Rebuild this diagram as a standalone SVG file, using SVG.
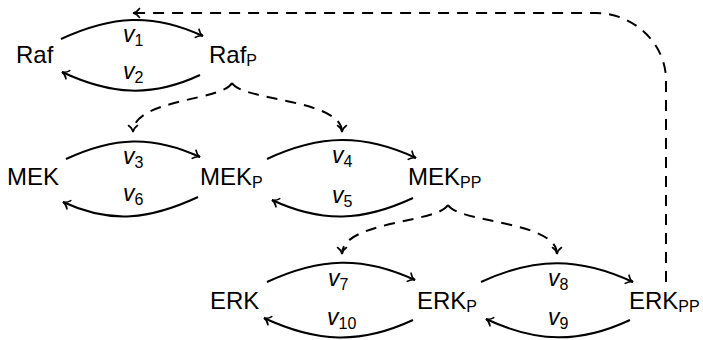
<svg xmlns="http://www.w3.org/2000/svg" width="703" height="340" viewBox="0 0 703 340">
<style>
.t{font-family:"Liberation Sans",Arial,sans-serif;font-size:24px;fill:#000}
.s{font-size:16px}
.v{font-family:"Liberation Sans",Arial,sans-serif;font-size:23px;font-style:italic;fill:#000}
.vs{font-size:16px;font-style:normal}
.e{fill:none;stroke:#000;stroke-width:2;marker-end:url(#ah)}
.d{fill:none;stroke:#000;stroke-width:2;stroke-dasharray:11 8;marker-end:url(#ah)}
</style>
<defs>
<marker id="ah" viewBox="-8 -6 10 12" refX="0" refY="0" markerWidth="10" markerHeight="12" markerUnits="userSpaceOnUse" orient="auto">
<path d="M-6.5,-4.5 C-4.5,-1.5 -1.5,-0.3 0,0 C-1.5,0.3 -4.5,1.5 -6.5,4.5" fill="none" stroke="#000" stroke-width="1.6" stroke-linecap="round"/>
</marker>
</defs>
<g id="connectors">
<path class="e" d="M61,39 C111.4,15.6 152.6,12.6 203,36"/>
<path class="e" d="M200,75 C151,97.8 111,94.8 62,72"/>
<path class="e" d="M66,159 C113.6,136.9 152.4,134.9 200,157"/>
<path class="e" d="M198,197 C150.1,219.3 110.9,224.3 63,202"/>
<path class="e" d="M267,159 C319.9,134.4 363.1,133.4 416,158"/>
<path class="e" d="M413,198 C363,221.3 322,223.3 272,200"/>
<path class="e" d="M267,282 C319.5,257.6 362.5,255.6 415,280"/>
<path class="e" d="M413,320 C360.1,344.6 316.9,342.6 264,318"/>
<path class="e" d="M481,282 C535,256.9 579,256.9 633,282"/>
<path class="e" d="M630,320 C578.9,343.8 537.1,342.8 486,319"/>
<path class="d" d="M232,83 C222,101 133,99 133,132"/>
<path class="d" d="M232,83 C242,101 342,99 342,132"/>
<path class="d" d="M448,205 C438,223 342,221 342,254"/>
<path class="d" d="M448,205 C458,223 557,221 557,254"/>
<path class="d" d="M666,282 L666,80 C666,43 633,13 596,13 L133,13"/>
</g>
<g id="labels">
<text class="v" x="123" y="42">v<tspan class="vs" dy="4">1</tspan></text>
<text class="v" x="123" y="79">v<tspan class="vs" dy="4">2</tspan></text>
<text class="v" x="123" y="164">v<tspan class="vs" dy="4">3</tspan></text>
<text class="v" x="123" y="201">v<tspan class="vs" dy="4">6</tspan></text>
<text class="v" x="332" y="163">v<tspan class="vs" dy="4">4</tspan></text>
<text class="v" x="332" y="203">v<tspan class="vs" dy="4">5</tspan></text>
<text class="v" x="328" y="286">v<tspan class="vs" dy="4">7</tspan></text>
<text class="v" x="327" y="325">v<tspan class="vs" dy="4">10</tspan></text>
<text class="v" x="548" y="286">v<tspan class="vs" dy="4">8</tspan></text>
<text class="v" x="548" y="325">v<tspan class="vs" dy="4">9</tspan></text>
</g>
<g id="Raf"><text class="t" x="16" y="63">Raf</text></g>
<g id="RafP"><text class="t" x="209" y="63">Raf<tspan class="s" dy="3">P</tspan></text></g>
<g id="MEK"><text class="t" x="7" y="185">MEK</text></g>
<g id="MEKP"><text class="t" x="200" y="185">MEK<tspan class="s" dy="3">P</tspan></text></g>
<g id="MEKPP"><text class="t" x="408" y="185">MEK<tspan class="s" dy="3">PP</tspan></text></g>
<g id="ERK"><text class="t" x="210" y="309">ERK</text></g>
<g id="ERKP"><text class="t" x="417" y="309">ERK<tspan class="s" dy="3">P</tspan></text></g>
<g id="ERKPP"><text class="t" x="629" y="309">ERK<tspan class="s" dy="3">PP</tspan></text></g>
</svg>
